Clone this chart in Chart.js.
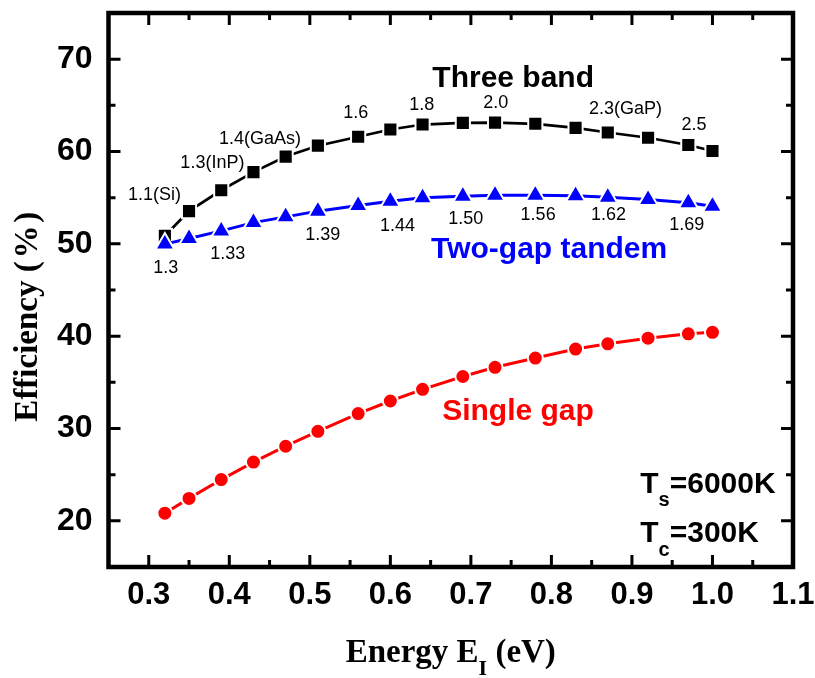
<!DOCTYPE html>
<html>
<head>
<meta charset="utf-8">
<script src="https://cdn.jsdelivr.net/npm/chart.js@4.4.0/dist/chart.umd.min.js"></script>
<style>
  html, body { margin:0; padding:0; background:#fff; }
  #wrap { width:815px; height:678px; position:relative; }
</style>
</head>
<body>
<div id="wrap"><canvas id="grafico"></canvas></div>
<script>
// Dados
const energia = [0.32,0.35,0.39,0.43,0.47,0.51,0.56,0.60,0.64,0.69,0.73,0.78,0.83,0.87,0.92,0.97,1.00];
const tresBandas = [50.87,53.55,55.8,57.77,59.45,60.63,61.6,62.38,62.92,63.1,63.13,63.0,62.56,62.06,61.49,60.7,60.05];
const doisGaps = [49.97,50.58,51.4,52.3,52.92,53.54,54.15,54.62,54.98,55.15,55.26,55.26,55.22,55.04,54.8,54.44,54.08];
const umGap = [20.83,22.43,24.47,26.36,28.08,29.69,31.62,32.98,34.24,35.63,36.63,37.63,38.6,39.17,39.78,40.25,40.42];

const xTicks = [0.3,0.4,0.5,0.6,0.7,0.8,0.9,1.0,1.1];
const xMinor = [0.35,0.45,0.55,0.65,0.75,0.85,0.95,1.05];
const yTicks = [20,30,40,50,60,70];
const yMinor = [25,35,45,55,65];

// rótulos dos gaps
const rotTres = ['1.1(Si)','1.3(InP)','1.4(GaAs)','1.6','1.8','2.0','2.3(GaP)','2.5'];
const rotTresX = [0.307,0.379,0.438,0.557,0.639,0.731,0.892,0.977];
const rotTresY = [55.3,58.8,61.4,64.2,65.0,65.2,64.55,62.85];
const rotDois = ['1.3','1.33','1.39','1.44','1.50','1.56','1.62','1.69'];
const rotDoisX = [0.321,0.398,0.516,0.609,0.6935,0.7835,0.871,0.968];
const rotDoisY = [47.4,48.9,50.9,51.95,52.65,53.1,53.15,52.05];

const sans = '"Liberation Sans", Arial, sans-serif';
const serif = '"Liberation Serif", "Times New Roman", serif';

function pontos(ys){ return energia.map((e,i)=>({x:e,y:ys[i]})); }

function textoPartes(ctx, partes, x, y, align){
  let w = 0;
  partes.forEach(p=>{ ctx.font = p[1]; w += ctx.measureText(p[0]).width; });
  let cx = align==='center' ? x - w/2 : x;
  ctx.textAlign = 'left';
  partes.forEach(p=>{ ctx.font = p[1]; ctx.fillText(p[0], cx, y + (p[2]||0)); cx += ctx.measureText(p[0]).width; });
}

// moldura, ticks internos e textos
const moldura = {
  id:'moldura',
  afterDraw(chart){
    const {ctx, chartArea:a, scales:{x,y}} = chart;
    ctx.save();
    ctx.strokeStyle = '#000';
    ctx.lineCap = 'butt';
    ctx.lineWidth = 3;
    const tx = (vals,len)=>vals.forEach(v=>{
      const px = x.getPixelForValue(v);
      ctx.beginPath();
      ctx.moveTo(px,a.bottom); ctx.lineTo(px,a.bottom-len);
      ctx.moveTo(px,a.top); ctx.lineTo(px,a.top+len);
      ctx.stroke();
    });
    const ty = (vals,len)=>vals.forEach(v=>{
      const py = y.getPixelForValue(v);
      ctx.beginPath();
      ctx.moveTo(a.left,py); ctx.lineTo(a.left+len,py);
      ctx.moveTo(a.right,py); ctx.lineTo(a.right-len,py);
      ctx.stroke();
    });
    tx(xTicks,12); tx(xMinor,7);
    ty(yTicks,12); ty(yMinor,7);
    ctx.lineWidth = 4.5;
    ctx.strokeRect(a.left,a.top,a.right-a.left,a.bottom-a.top);

    // rótulos pequenos
    ctx.fillStyle = '#000';
    ctx.font = '18px '+sans;
    ctx.textAlign = 'center';
    ctx.textBaseline = 'middle';
    rotTres.forEach((t,i)=>ctx.fillText(t, x.getPixelForValue(rotTresX[i]), y.getPixelForValue(rotTresY[i])));
    rotDois.forEach((t,i)=>ctx.fillText(t, x.getPixelForValue(rotDoisX[i]), y.getPixelForValue(rotDoisY[i])));

    // nomes das curvas
    ctx.textBaseline = 'alphabetic';
    ctx.font = 'bold 30px '+sans;
    ctx.fillStyle = '#000';
    ctx.fillText('Three band', x.getPixelForValue(0.7525), y.getPixelForValue(66.96));
    ctx.fillStyle = '#0000ff';
    ctx.fillText('Two-gap tandem', x.getPixelForValue(0.7972), y.getPixelForValue(48.43));
    ctx.fillStyle = '#ff0000';
    ctx.fillText('Single gap', x.getPixelForValue(0.7585), y.getPixelForValue(30.91));

    // temperaturas
    ctx.fillStyle = '#000';
    const big = 'bold 30px '+sans, sub = 'bold 20px '+sans;
    textoPartes(ctx, [['T',big],['s',sub,13],['=6000K',big]], x.getPixelForValue(0.9103), y.getPixelForValue(22.97), 'left');
    textoPartes(ctx, [['T',big],['c',sub,14],['=300K',big]], x.getPixelForValue(0.9103), y.getPixelForValue(17.67), 'left');

    // títulos dos eixos
    const tit = 'bold 33px '+serif, titSub = 'bold 22px '+serif;
    textoPartes(ctx, [['Energy E',tit],['I',titSub,13],[' (eV)',tit]], (a.left+a.right)/2, 661.7, 'center');
    ctx.translate(37,316.7);
    ctx.rotate(-Math.PI/2);
    ctx.font = tit;
    ctx.textAlign = 'center';
    ctx.fillText('Efficiency (\u200A%\u200A)', 0, 0);
    ctx.restore();
  }
};

const ctx = document.getElementById('grafico').getContext('2d');
new Chart(ctx,{
  type:'line',
  data:{datasets:[
    {label:'Two-gap tandem', data:pontos(doisGaps), borderColor:'#0000ff', borderWidth:3,
     pointStyle:'triangle', pointRadius:11, pointBackgroundColor:'#0000ff', pointBorderColor:'#fff', pointBorderWidth:2},
    {label:'Three band', data:pontos(tresBandas), borderColor:'#000', borderWidth:2.7,
     pointStyle:'rect', pointRadius:10, pointBackgroundColor:'#000', pointBorderColor:'#fff', pointBorderWidth:2},
    {label:'Single gap', data:pontos(umGap), borderColor:'#ff0000', borderWidth:3,
     pointStyle:'circle', pointRadius:7.5, pointBackgroundColor:'#ff0000', pointBorderColor:'#fff', pointBorderWidth:2}
  ]},
  options:{
    responsive:true,
    maintainAspectRatio:false,
    animation:false,
    events:[],
    layout:{padding:{top:10,right:22,bottom:0,left:0}},
    plugins:{legend:{display:false},tooltip:{enabled:false}},
    scales:{
      x:{type:'linear',min:0.25,max:1.1,
        afterBuildTicks:s=>{ s.ticks = xTicks.map(v=>({value:v})); },
        afterFit:s=>{ s.height = 111; s.paddingLeft = 0; s.paddingRight = 0; },
        grid:{display:false,drawTicks:false}, border:{display:false},
        ticks:{padding:10,color:'#000',autoSkip:false,maxRotation:0,font:{family:sans,size:31,weight:'bold'},callback:v=>v.toFixed(1)}},
      y:{min:15,max:75,
        afterBuildTicks:s=>{ s.ticks = yTicks.map(v=>({value:v})); },
        afterFit:s=>{ s.width = 108.5; s.paddingTop = 0; s.paddingBottom = 0; },
        grid:{display:false,drawTicks:false}, border:{display:false},
        ticks:{padding:16,color:'#000',autoSkip:false,font:{family:sans,size:32,weight:'bold'}}}
    }
  },
  plugins:[moldura]
});
</script>
</body>
</html>
